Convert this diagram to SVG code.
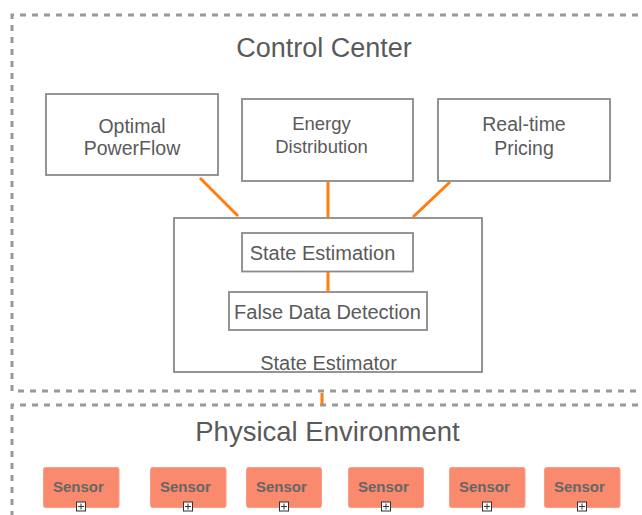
<svg xmlns="http://www.w3.org/2000/svg" width="642" height="515" viewBox="0 0 642 515">
<style>
.container{fill:none;stroke:#999;stroke-width:3;stroke-dasharray:6 6}
.box{fill:#fff;stroke:#8a8a8a;stroke-width:1.8}
.lbl{font-family:"Liberation Sans",Arial,sans-serif;fill:#5a5a5a;text-anchor:middle}
.title{font-size:27px}
.t{font-size:19.5px}
.sensor{fill:#f98a6e;stroke:#fb9c84;stroke-width:1}
.stxt{font-family:"Liberation Sans",Arial,sans-serif;font-weight:bold;font-size:15px;fill:#666}
.conn{stroke:#ff7f0e;stroke-width:3;fill:none}
.plus rect{fill:#fff;stroke:#333;stroke-width:1}
.plus path{stroke:#333;stroke-width:1}
</style>
<rect width="642" height="515" fill="#fff"/>
<g id="control-center">
<path class="container" d="M650,15 H12 V391 H650"/>
<text class="lbl title" x="324" y="57">Control Center</text>
</g>
<g id="physical-environment">
<path class="container" d="M650,405 H12 V520"/>
<text class="lbl title" x="327.5" y="441" style="font-size:27.5px">Physical Environment</text>
</g>
<g id="optimal-powerflow">
<rect class="box" x="46" y="94" width="172" height="81"/>
<text class="lbl t" x="132" y="133">Optimal</text>
<text class="lbl t" x="132" y="154.5">PowerFlow</text>
</g>
<g id="energy-distribution">
<rect class="box" x="242" y="99" width="171" height="82"/>
<text class="lbl t" x="321.5" y="130" style="font-size:18.5px">Energy</text>
<text class="lbl t" x="321.5" y="152.5" style="font-size:18.5px">Distribution</text>
</g>
<g id="real-time-pricing">
<rect class="box" x="438" y="99" width="172" height="82"/>
<text class="lbl t" x="524" y="131">Real-time</text>
<text class="lbl t" x="524" y="155">Pricing</text>
</g>
<g id="state-estimator">
<rect class="box" x="174" y="218" width="308" height="154"/>
<text class="lbl" x="328.5" y="369.5" style="font-size:20px">State Estimator</text>
</g>
<g id="state-estimation">
<rect class="box" x="242" y="233" width="171" height="38.5"/>
<text class="lbl" x="322.5" y="259.5" style="font-size:20px">State Estimation</text>
</g>
<g id="false-data-detection">
<rect class="box" x="229" y="292" width="198" height="38"/>
<text class="lbl" x="327.5" y="318.5" style="font-size:20px">False Data Detection</text>
</g>
<g id="connectors">
<line class="conn" x1="200" y1="178" x2="238" y2="216"/>
<line class="conn" x1="328" y1="182" x2="328" y2="217"/>
<line class="conn" x1="450" y1="182" x2="413" y2="217"/>
<line class="conn" x1="328" y1="272" x2="328" y2="292"/>
<line class="conn" x1="322" y1="393" x2="322" y2="404.5"/>
</g>
<g id="sensor-1"><rect class="sensor" x="43.5" y="467.5" width="75.5" height="40" rx="2"/><text class="stxt" x="53" y="492">Sensor</text><g class="plus"><rect x="76.5" y="502" width="9" height="9"/><path d="M78,506.5H84M81,503.5V509.5"/></g></g>
<g id="sensor-2"><rect class="sensor" x="150.5" y="467.5" width="75.5" height="40" rx="2"/><text class="stxt" x="160" y="492">Sensor</text><g class="plus"><rect x="183.5" y="502" width="9" height="9"/><path d="M185,506.5H191M188,503.5V509.5"/></g></g>
<g id="sensor-3"><rect class="sensor" x="246.5" y="467.5" width="75" height="40" rx="2"/><text class="stxt" x="256" y="492">Sensor</text><g class="plus"><rect x="279.5" y="502" width="9" height="9"/><path d="M281,506.5H287M284,503.5V509.5"/></g></g>
<g id="sensor-4"><rect class="sensor" x="348.5" y="467.5" width="75" height="40" rx="2"/><text class="stxt" x="358" y="492">Sensor</text><g class="plus"><rect x="381.5" y="502" width="9" height="9"/><path d="M383,506.5H389M386,503.5V509.5"/></g></g>
<g id="sensor-5"><rect class="sensor" x="449.5" y="467.5" width="75.5" height="40" rx="2"/><text class="stxt" x="459" y="492">Sensor</text><g class="plus"><rect x="482.5" y="502" width="9" height="9"/><path d="M484,506.5H490M487,503.5V509.5"/></g></g>
<g id="sensor-6"><rect class="sensor" x="544.5" y="467.5" width="75.5" height="40" rx="2"/><text class="stxt" x="554" y="492">Sensor</text><g class="plus"><rect x="577.5" y="502" width="9" height="9"/><path d="M579,506.5H585M582,503.5V509.5"/></g></g>
</svg>
